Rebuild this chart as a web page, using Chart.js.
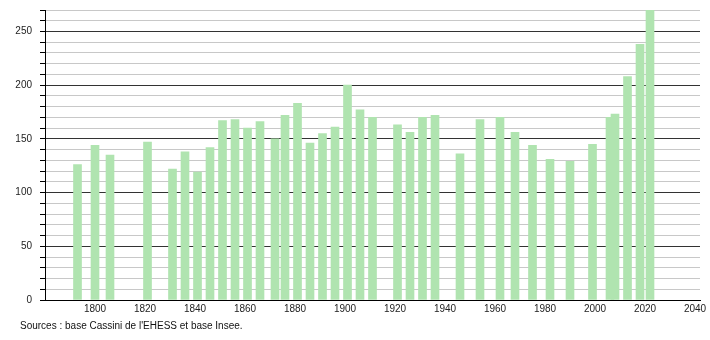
<!DOCTYPE html>
<html>
<head>
<meta charset="utf-8">
<script src="https://cdn.jsdelivr.net/npm/chart.js@4"></script>
<style>
  body { margin: 0; background: #fff; }
  #wrap { position: relative; width: 710px; height: 340px; }
  #source { position: absolute; left: 20px; top: 320px; font: 10px "Liberation Sans", Arial, sans-serif; color: #111; }
</style>
</head>
<body>
<div id="wrap">
  <canvas id="popChart" width="710" height="340"></canvas>
  <div id="source">Sources : base Cassini de l'EHESS et base Insee.</div>
</div>
<script>
const years = [1793, 1800, 1806, 1821, 1831, 1836, 1841, 1846, 1851, 1856, 1861, 1866, 1872, 1876, 1881, 1886, 1891, 1896, 1901, 1906, 1911, 1921, 1926, 1931, 1936, 1946, 1954, 1962, 1968, 1975, 1982, 1990, 1999, 2006, 2008, 2013, 2018, 2022];
const population = [126, 144, 135, 147, 122, 138, 119, 142, 167, 168, 160, 166, 150, 172, 183, 146, 155, 161, 200, 177, 170, 163, 156, 170, 172, 136, 168, 170, 156, 144, 131, 129, 145, 170, 173, 208, 238, 270];
const xTicks = [1780, 1800, 1820, 1840, 1860, 1880, 1900, 1920, 1940, 1960, 1980, 2000, 2020, 2040];

const points = years.map((y, i) => ({ x: y, y: population[i] }));
const font = { family: '"Liberation Sans", Arial, sans-serif', size: 10 };

new Chart(document.getElementById('popChart').getContext('2d'), {
    type: 'bar',
    data: {
        datasets: [{
            data: points,
            backgroundColor: '#b0e4b0',
            borderWidth: 0,
            barThickness: 8
        }]
    },
    options: {
        responsive: false,
        animation: false,
        layout: { padding: { top: 10, right: 10, left: 0, bottom: 0 } },
        plugins: { legend: { display: false }, tooltip: { enabled: false } },
        scales: {
            x: {
                type: 'linear',
                offset: false,
                min: 1780,
                max: 2042,
                afterFit: s => { s.height = 40; },
                afterBuildTicks: s => { s.ticks = xTicks.map(v => ({ value: v })); },
                ticks: {
                    font: font,
                    color: '#222',
                    padding: 3,
                    maxRotation: 0,
                    autoSkip: false,
                    callback: v => v === 1780 ? '' : v
                },
                grid: { display: false, drawTicks: false },
                border: { display: true, color: '#000', width: 1 }
            },
            y: {
                min: 0,
                max: 270,
                afterFit: s => { s.width = 45; s.paddingTop = 0; s.paddingBottom = 0; },
                ticks: {
                    stepSize: 10,
                    font: font,
                    color: '#222',
                    padding: 8,
                    autoSkip: false,
                    callback: v => v % 50 === 0 ? v : ''
                },
                grid: {
                    color: c => c.tick && c.tick.value % 50 === 0 ? '#333' : '#c8c8c8',
                    tickColor: '#000',
                    tickLength: 5
                },
                border: { display: true, color: '#000', width: 1 }
            }
        }
    }
});
</script>
</body>
</html>
